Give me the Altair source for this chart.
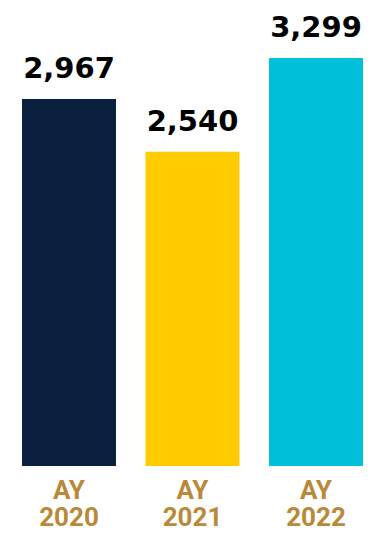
import altair as alt
import pandas as pd

years = ["AY 2020", "AY 2021", "AY 2022"]
values = [2967, 2540, 3299]
colors = ["#0B1F3F", "#FFCC00", "#00BFD8"]

df = pd.DataFrame({"year": years, "value": values, "color": colors})

x = alt.X("year:N", sort=years,
          scale=alt.Scale(paddingInner=0.239, paddingOuter=0),
          axis=alt.Axis(title=None, labelExpr="split(datum.label, ' ')",
                        labelAngle=0, labelFont="Roboto", labelFontWeight="bold",
                        labelFontSize=26, labelLineHeight=27, labelColor="#B8893A",
                        labelPadding=11, ticks=False, domain=False, labelBaseline="top"))
y = alt.Y("value:Q", scale=alt.Scale(domain=[0, 3768], nice=False), axis=None)

bars = alt.Chart(df).mark_bar().encode(
    x=x, y=y, color=alt.Color("color:N", scale=None))

labels = alt.Chart(df).mark_text(
    baseline="alphabetic", dy=-21, font="DejaVu Sans", fontWeight="bold",
    fontSize=29, color="#000000").encode(
    x=alt.X("year:N", sort=years), y=y, text=alt.Text("value:Q", format=","))

chart = (bars + labels).properties(
    width=341, height=466,
    background="white",
    autosize=alt.AutoSizeParams(type="none"),
    padding={"left": 22, "right": 7, "top": 0, "bottom": 67},
).configure_view(strokeWidth=0, stroke="transparent")

chart.save("out.html", embed_options={"renderer": "svg", "actions": False})
